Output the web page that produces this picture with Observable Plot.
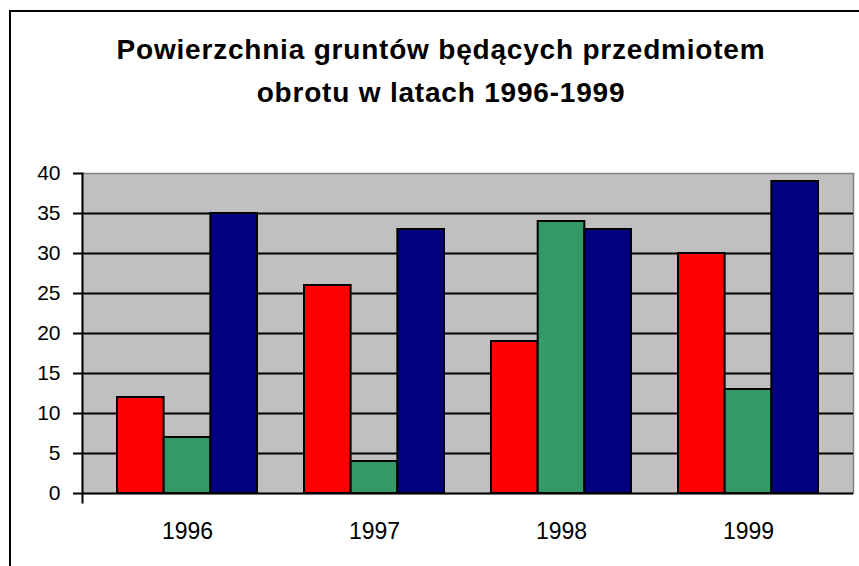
<!DOCTYPE html>
<html><head><meta charset="utf-8">
<script src="https://cdn.jsdelivr.net/npm/d3@7"></script>
<script src="https://cdn.jsdelivr.net/npm/@observablehq/plot@0.6"></script>
<style>
body{margin:0;background:#fff;}
#wrap{position:relative;width:859px;height:566px;overflow:hidden;font-family:"Liberation Sans",Arial,sans-serif;}
#border{position:absolute;left:9px;top:10px;width:900px;height:600px;border-left:2px solid #000;border-top:2px solid #000;}
#title{position:absolute;left:22px;top:28px;width:838px;text-align:center;font-weight:bold;font-size:28px;letter-spacing:0.8px;line-height:43px;color:#000;}
#chart{position:absolute;left:0;top:130px;}
</style></head><body>
<div id="wrap"><div id="border"></div><div id="title">Powierzchnia gruntów będących przedmiotem<br>obrotu w latach 1996-1999</div><div id="chart"></div></div>
<script>
const years = ["1996","1997","1998","1999"];
const seriesA = [12,26,19,30];
const seriesB = [7,4,34,13];
const seriesC = [35,33,33,39];
const yTicks = [0,5,10,15,20,25,30,35,40];

const W = 859, H = 436, mL = 82, mR = 6, mT = 43, mB = 73;
const padIn = 0.253, padOut = 0.1826;
const bw = d3.scaleBand().domain(years).range([mL, W - mR]).paddingInner(padIn).paddingOuter(padOut).bandwidth();
const third = bw / 3;

const rows = (vals) => years.map((y, i) => ({year: y, value: vals[i]}));
const barStyle = {stroke: "black", strokeWidth: 2};

const chart = Plot.plot({
  width: W, height: H,
  marginLeft: mL, marginRight: mR, marginTop: mT, marginBottom: mB,
  style: {fontFamily: "'Liberation Sans', Arial, sans-serif", color: "black", background: "transparent", overflow: "visible"},
  x: {type: "band", domain: years, paddingInner: padIn, paddingOuter: padOut},
  y: {domain: [0, 40]},
  marks: [
    Plot.frame({fill: "#c0c0c0", stroke: "#808080", strokeWidth: 1.5}),
    Plot.ruleY(yTicks.filter(t => t > 0 && t < 40), {stroke: "black", strokeWidth: 2}),
    Plot.barY(rows(seriesA), {x: "year", y: "value", fill: "#ff0000", insetRight: 2 * third, ...barStyle}),
    Plot.barY(rows(seriesB), {x: "year", y: "value", fill: "#339966", insetLeft: third, insetRight: third, ...barStyle}),
    Plot.barY(rows(seriesC), {x: "year", y: "value", fill: "#000080", insetLeft: 2 * third, ...barStyle}),
    Plot.ruleY([0], {stroke: "black", strokeWidth: 2}),
    Plot.frame({anchor: "left", stroke: "black", strokeWidth: 2, insetBottom: -9}),
    Plot.axisY({ticks: yTicks, tickSize: 9, tickPadding: 13, fontSize: 21, strokeWidth: 2, label: null}),
    Plot.axisX({tickSize: 0, tickPadding: 29, fontSize: 23, label: null})
  ]
});
document.getElementById("chart").appendChild(chart);
</script>
</body></html>
